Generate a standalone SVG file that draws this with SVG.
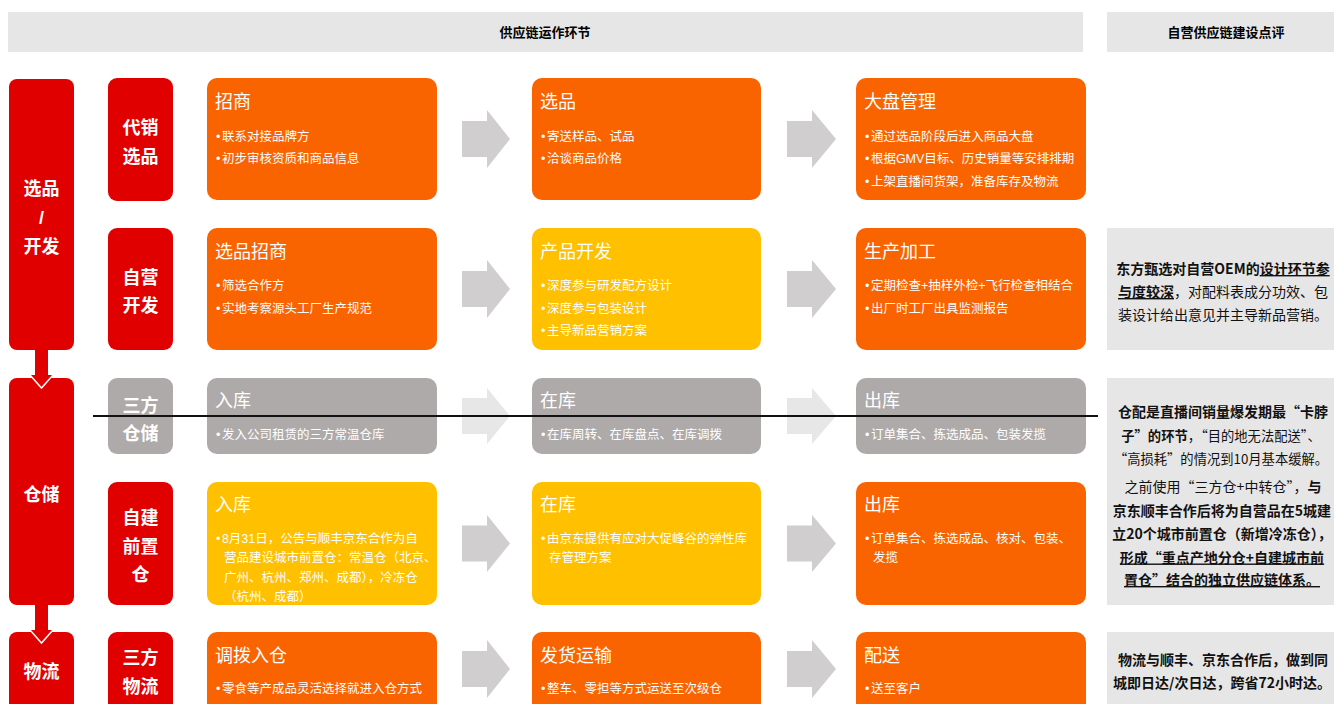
<svg xmlns="http://www.w3.org/2000/svg" width="1334" height="704" viewBox="0 0 1334 704">
<style>
text{font-family:"Liberation Sans","Noto Sans CJK SC",sans-serif}
.bar{fill:#e7e6e6}
.red{fill:#e00000}
.org{fill:#f96400}
.yel{fill:#ffc000}
.gry{fill:#aeaaaa}
.pan{fill:#e7e6e6}
.arr{fill:#d0cece}
.arrl{fill:#e8e7e7}
.hd{font-size:13px;font-weight:700;fill:#000;text-anchor:middle}
.lab{font-size:18px;font-weight:700;fill:#fff;text-anchor:middle}
.ttl{font-size:18px;fill:#fff}
.bul{font-size:12.5px;fill:#fff}
.cm{font-family:"Noto Sans CJK SC",sans-serif;font-size:14px;fill:#111;text-anchor:middle}
.sm{font-size:13.3px}
.b{font-weight:700}
.u{text-decoration:underline}
</style>
<rect width="1334" height="704" fill="#fff"/>
<g id="header">
<rect class="bar" x="8" y="12" width="1075" height="40"/>
<text class="hd" x="545" y="37">供应链运作环节</text>
<rect class="bar" x="1107" y="12" width="227" height="40"/>
<text class="hd" x="1226" y="37">自营供应链建设点评</text>
</g>
<g id="stage-xuanpin">
<rect class="red" x="9" y="79" width="65" height="271" rx="8"/>
<text class="lab" x="41.5" y="195">选品</text>
<text class="lab" x="41.5" y="224" font-weight="400">/</text>
<text class="lab" x="41.5" y="253">开发</text>
</g>
<g id="stage-cangchu">
<rect class="red" x="9" y="378" width="65" height="227" rx="8"/>
<text class="lab" x="41.5" y="501">仓储</text>
</g>
<g id="stage-wuliu">
<rect class="red" x="9" y="632" width="65" height="90" rx="8"/>
<text class="lab" x="41.5" y="678">物流</text>
</g>
<g id="type-daixiao">
<rect class="red" x="108" y="78" width="65" height="123" rx="9"/>
<text class="lab" x="140.5" y="134">代销</text>
<text class="lab" x="140.5" y="163">选品</text>
</g>
<g id="type-ziying">
<rect class="red" x="108" y="228" width="65" height="122" rx="9"/>
<text class="lab" x="140.5" y="284">自营</text>
<text class="lab" x="140.5" y="312">开发</text>
</g>
<g id="type-sanfangcang">
<rect class="gry" x="108" y="378" width="65" height="76" rx="9"/>
<text class="lab" x="140.5" y="412">三方</text>
<text class="lab" x="140.5" y="440">仓储</text>
</g>
<g id="type-zijian">
<rect class="red" x="108" y="482" width="65" height="123" rx="9"/>
<text class="lab" x="140.5" y="524">自建</text>
<text class="lab" x="140.5" y="553">前置</text>
<text class="lab" x="140.5" y="581">仓</text>
</g>
<g id="type-sanfangwuliu">
<rect class="red" x="108" y="632" width="65" height="90" rx="9"/>
<text class="lab" x="140.5" y="664">三方</text>
<text class="lab" x="140.5" y="693">物流</text>
</g>
<g id="r1c1">
<rect class="org" x="207" y="78" width="230" height="122" rx="10"/>
<text class="ttl" x="215" y="108">招商</text>
<text class="bul" x="216" y="140.5">•<tspan dx="1.5">联系对接品牌方</tspan></text>
<text class="bul" x="216" y="163">•<tspan dx="1.5">初步审核资质和商品信息</tspan></text>
</g>
<g id="r1c2">
<rect class="org" x="532" y="78" width="229" height="122" rx="10"/>
<text class="ttl" x="540" y="108">选品</text>
<text class="bul" x="541" y="140.5">•<tspan dx="1.5">寄送样品、试品</tspan></text>
<text class="bul" x="541" y="163">•<tspan dx="1.5">洽谈商品价格</tspan></text>
</g>
<g id="r1c3">
<rect class="org" x="856" y="78" width="230" height="122" rx="10"/>
<text class="ttl" x="864" y="108">大盘管理</text>
<text class="bul" x="865" y="140.5">•<tspan dx="1.5">通过选品阶段后进入商品大盘</tspan></text>
<text class="bul" x="865" y="163">•<tspan dx="1.5">根据GMV目标、历史销量等安排排期</tspan></text>
<text class="bul" x="865" y="185.5">•<tspan dx="1.5">上架直播间货架，准备库存及物流</tspan></text>
</g>
<g id="r2c1">
<rect class="org" x="207" y="228" width="230" height="122" rx="10"/>
<text class="ttl" x="215" y="258">选品招商</text>
<text class="bul" x="216" y="290">•<tspan dx="1.5">筛选合作方</tspan></text>
<text class="bul" x="216" y="312.5">•<tspan dx="1.5">实地考察源头工厂生产规范</tspan></text>
</g>
<g id="r2c2">
<rect class="yel" x="532" y="228" width="229" height="122" rx="10"/>
<text class="ttl" x="540" y="258">产品开发</text>
<text class="bul" x="541" y="290">•<tspan dx="1.5">深度参与研发配方设计</tspan></text>
<text class="bul" x="541" y="312.5">•<tspan dx="1.5">深度参与包装设计</tspan></text>
<text class="bul" x="541" y="335">•<tspan dx="1.5">主导新品营销方案</tspan></text>
</g>
<g id="r2c3">
<rect class="org" x="856" y="228" width="230" height="122" rx="10"/>
<text class="ttl" x="864" y="258">生产加工</text>
<text class="bul" x="865" y="290">•<tspan dx="1.5">定期检查+抽样外检+飞行检查相结合</tspan></text>
<text class="bul" x="865" y="312.5">•<tspan dx="1.5">出厂时工厂出具监测报告</tspan></text>
</g>
<g id="r3c1">
<rect class="gry" x="207" y="378" width="230" height="76" rx="10"/>
<text class="ttl" x="215" y="407">入库</text>
<text class="bul" x="216" y="439">•<tspan dx="1.5">发入公司租赁的三方常温仓库</tspan></text>
</g>
<g id="r3c2">
<rect class="gry" x="532" y="378" width="229" height="76" rx="10"/>
<text class="ttl" x="540" y="407">在库</text>
<text class="bul" x="541" y="439">•<tspan dx="1.5">在库周转、在库盘点、在库调拨</tspan></text>
</g>
<g id="r3c3">
<rect class="gry" x="856" y="378" width="230" height="76" rx="10"/>
<text class="ttl" x="864" y="407">出库</text>
<text class="bul" x="865" y="439">•<tspan dx="1.5">订单集合、拣选成品、包装发揽</tspan></text>
</g>
<g id="r4c1">
<rect class="yel" x="207" y="482" width="230" height="123" rx="10"/>
<text class="ttl" x="215" y="511">入库</text>
<text class="bul" x="216" y="543">•<tspan dx="1.5">8月31日，公告与顺丰京东合作为自</tspan></text>
<text class="bul" x="224" y="562">营品建设城市前置仓：常温仓（北京、</text>
<text class="bul" x="224" y="581.5">广州、杭州、郑州、成都），冷冻仓</text>
<text class="bul" x="224" y="601">（杭州、成都）</text>
</g>
<g id="r4c2">
<rect class="yel" x="532" y="482" width="229" height="123" rx="10"/>
<text class="ttl" x="540" y="511">在库</text>
<text class="bul" x="541" y="543">•<tspan dx="1.5">由京东提供有应对大促峰谷的弹性库</tspan></text>
<text class="bul" x="549" y="562">存管理方案</text>
</g>
<g id="r4c3">
<rect class="org" x="856" y="482" width="230" height="123" rx="10"/>
<text class="ttl" x="864" y="511">出库</text>
<text class="bul" x="865" y="543">•<tspan dx="1.5">订单集合、拣选成品、核对、包装、</tspan></text>
<text class="bul" x="873" y="562">发揽</text>
</g>
<g id="r5c1">
<rect class="org" x="207" y="632" width="230" height="90" rx="10"/>
<text class="ttl" x="215" y="662">调拨入仓</text>
<text class="bul" x="216" y="693">•<tspan dx="1.5">零食等产成品灵活选择就进入仓方式</tspan></text>
</g>
<g id="r5c2">
<rect class="org" x="532" y="632" width="229" height="90" rx="10"/>
<text class="ttl" x="540" y="662">发货运输</text>
<text class="bul" x="541" y="693">•<tspan dx="1.5">整车、零担等方式运送至次级仓</tspan></text>
</g>
<g id="r5c3">
<rect class="org" x="856" y="632" width="230" height="90" rx="10"/>
<text class="ttl" x="864" y="662">配送</text>
<text class="bul" x="865" y="693">•<tspan dx="1.5">送至客户</tspan></text>
</g>
<g id="comment-dev">
<rect class="pan" x="1107" y="228" width="227" height="122"/>
<text class="cm" x="1223" y="274"><tspan class="b">东方甄选对自营OEM的</tspan><tspan class="b u">设计环节参</tspan></text>
<text class="cm" x="1223" y="297"><tspan class="b u">与度较深</tspan>，对配料表成分功效、包</text>
<text class="cm" x="1223" y="319.5">装设计给出意见并主导新品营销。</text>
</g>
<g id="comment-storage">
<rect class="pan" x="1107" y="378" width="227" height="227"/>
<text class="cm b" x="1223" y="417">仓配是直播间销量爆发期最“卡脖</text>
<text class="cm sm" x="1221" y="441"><tspan class="b">子”的环节</tspan>，“目的地无法配送”、</text>
<text class="cm sm" x="1221" y="464">“高损耗”的情况到10月基本缓解。</text>
<text class="cm" x="1223" y="492">之前使用“三方仓+中转仓”，<tspan class="b">与</tspan></text>
<text class="cm b" x="1222" y="515.5">京东顺丰合作后将为自营品在5城建</text>
<text class="cm b" x="1222" y="539">立20个城市前置仓（新增冷冻仓），</text>
<text class="cm b u" x="1222" y="562.5">形成“重点产地分仓+自建城市前</text>
<text class="cm b u" x="1222" y="585">置仓”结合的独立供应链体系。</text>
</g>
<g id="comment-logistics">
<rect class="pan" x="1107" y="632" width="227" height="90"/>
<text class="cm b" x="1223" y="665">物流与顺丰、京东合作后，做到同</text>
<text class="cm b" x="1222" y="688">城即日达/次日达，跨省72小时达。</text>
</g>
<g id="connectors">
<path class="red" d="M35 350H48V375H53L41.5 388L30 375H35Z"/>
<polyline points="30,375 41.5,388 53,375" fill="none" stroke="#fff" stroke-width="1.5"/>
<path class="red" d="M35 605H48V630H53L41.5 643L30 630H35Z"/>
<polyline points="30,630 41.5,643 53,630" fill="none" stroke="#fff" stroke-width="1.5"/>
<path class="arr" d="M462 121H487V110L510 139L487 168V157H462Z"/>
<path class="arr" d="M787 121H812V110L836 139L812 168V157H787Z"/>
<path class="arr" d="M462 271H487V260L510 289L487 318V307H462Z"/>
<path class="arr" d="M787 271H812V260L836 289L812 318V307H787Z"/>
<path class="arrl" d="M462 398H487V388L510 416L487 444V434H462Z"/>
<path class="arrl" d="M787 398H812V388L836 416L812 444V434H787Z"/>
<path class="arr" d="M462 525.5H487V515L510 543.5L487 572V561.5H462Z"/>
<path class="arr" d="M787 525.5H812V515L836 543.5L812 572V561.5H787Z"/>
<path class="arr" d="M462 651H487V640L510 669L487 698V687H462Z"/>
<path class="arr" d="M787 651H812V640L836 669L812 698V687H787Z"/>
<line x1="93" y1="416" x2="1098" y2="416" stroke="#111" stroke-width="2"/>
</g>
</svg>
